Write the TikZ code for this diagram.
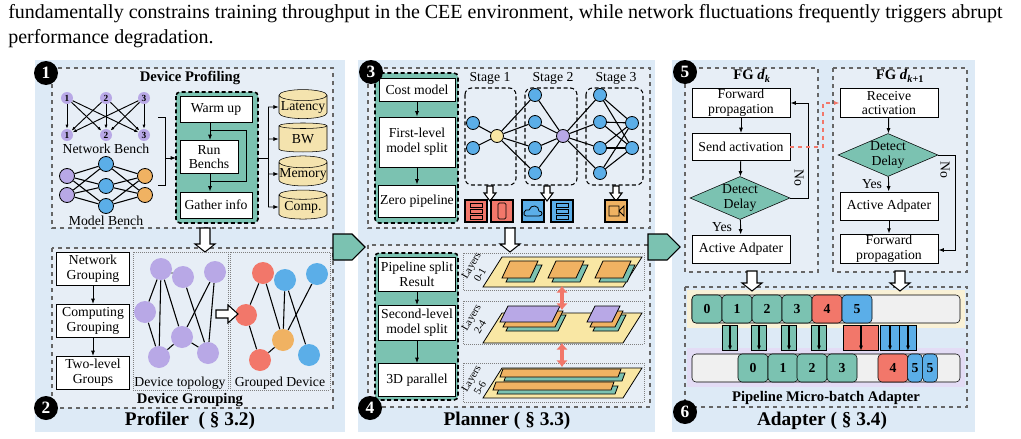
\documentclass[tikz,border=0pt]{standalone}
\usepackage{fontspec}
\setmainfont{Liberation Serif}
\usetikzlibrary{shapes.geometric,arrows.meta}
\definecolor{panelbg}{HTML}{DDEAF6}
\definecolor{innerbg}{HTML}{E7EEF6}
\definecolor{teal}{HTML}{7BC2B1}
\definecolor{lila}{HTML}{B8A8E6}
\definecolor{sky}{HTML}{5BAEE8}
\definecolor{peach}{HTML}{F0B262}
\definecolor{salmon}{HTML}{F2776A}
\definecolor{cream}{HTML}{F4E3AE}
\definecolor{sand}{HTML}{F9E7A4}
\newcommand\fs{\fontsize{10.3}{11}\selectfont}
\newcommand\warrow[4]{% x, top y, bottom y, half width
  \draw[fill=white,line width=0.8pt] (#1-#4/2,#2) -- (#1+#4/2,#2) -- (#1+#4/2,#3-8) -- (#1+#4,#3-8)
    -- (#1,#3) -- (#1-#4,#3-8) -- (#1-#4/2,#3-8) -- cycle;}
\newcommand\slab[6]{% x, y, w, h, fill, skew
  \draw[fill=#5,line width=0.6pt] (#1,#2+#4) -- (#1+#6,#2) -- (#1+#6+#3,#2) -- (#1+#3,#2+#4) -- cycle;}
\tikzset{
  wh/.style 2 args={minimum width=#1*0.75pt,minimum height=#2*0.75pt},
  box/.style={draw,fill=white,align=center,font=\fs,inner sep=1pt,line width=0.7pt},
  tbox/.style={draw,fill=teal,densely dashed,line width=1.2pt,rounded corners=3pt},
  dbox/.style={draw=gray!80!black,dashed,line width=1pt},
  lbox/.style={draw=gray,densely dotted,line width=0.5pt},
  cyl/.style={cylinder,shape border rotate=90,aspect=0.25,draw,fill=cream,font=\fs,inner sep=0pt},
  dia/.style={diamond,draw,fill=teal,aspect=2.3,font=\fs,align=center,inner sep=0pt},
  badge/.style={circle,fill=black,text=white,font=\bfseries\fontsize{13}{13}\selectfont,minimum size=18pt,inner sep=0pt},
  nd/.style={circle,draw,line width=0.6pt,minimum size=#1*1.5pt,inner sep=0pt},
  gd/.style={circle,minimum size=16.5pt,inner sep=0pt},
  cell/.style={draw,rounded corners=3pt,font=\bfseries\fs,inner sep=0pt,minimum height=21pt},
  tab/.style={draw,inner sep=0pt,minimum height=19pt},
  title/.style={font=\bfseries\fontsize{11}{12}\selectfont},
  big/.style={font=\bfseries\fontsize{14.5}{15}\selectfont},
  lay/.style={font=\fontsize{8}{7}\selectfont,rotate=60,inner sep=0pt},
  arr/.style={-{Latex[length=4pt]},line width=0.7pt},
  dbl/.style={{Latex[length=5pt,width=9pt]}-{Latex[length=5pt,width=9pt]},draw=salmon,line width=3.5pt}
}
\begin{document}
\begin{tikzpicture}[x=0.75pt,y=-0.75pt]
  \useasboundingbox (0,0) rectangle (1021,439);

  % caption text
  \node[anchor=west,font=\fontsize{15}{16}\selectfont,inner sep=0pt] (cap1) at (8,14) {fundamentally constrains training throughput in the CEE environment, while network fluctuations frequently triggers abrupt};
  \node[anchor=west,font=\fontsize{15}{16}\selectfont,inner sep=0pt] (cap2) at (8,39) {performance degradation.};

  % panels
  \fill[panelbg] (35,60) rectangle (345,432);
  \fill[panelbg] (358,60) rectangle (655,432);
  \fill[panelbg] (672,60) rectangle (975,432);
  \draw[dbox,fill=innerbg] (52,68) rectangle (333,228);
  \draw[dbox,fill=innerbg] (52,248) rectangle (333,408);
  \draw[dbox,fill=innerbg] (368,68) rectangle (650,228);
  \draw[dbox,fill=innerbg] (368,245) rectangle (650,407);
  \draw[dbox,fill=innerbg] (685,68) rectangle (818,272);
  \draw[dbox,fill=innerbg] (833,68) rectangle (967,272);
  \fill[cream!50] (687,290) rectangle (965,328);
  \fill[lila!40] (687,348) rectangle (965,387);
  \draw[dbox] (685,287) rectangle (967,407);

  % teal arrows between panels
  \draw[fill=teal,line width=0.8pt] (333,234) -- (352,234) -- (365,247) -- (352,260) -- (333,260) -- cycle;
  \draw[fill=teal,line width=0.8pt] (648,234) -- (667,234) -- (680,247) -- (667,260) -- (648,260) -- cycle;

  % ---------- profiler ----------
  \node[title] (tprof) at (190,78) {Device Profiling};
  \foreach \i/\x in {1/67,2/106,3/144} {
    \node[circle,fill=lila,minimum size=9pt,inner sep=0pt,font=\bfseries\scriptsize] (nt\i) at (\x,98) {\i};
    \node[circle,fill=lila,minimum size=9pt,inner sep=0pt,font=\bfseries\scriptsize] (nb\i) at (\x,135) {\i};
  }
  \foreach \i in {1,2,3} \foreach \j in {1,2,3} \draw[-{Latex[length=3pt]},line width=0.7pt] (nt\i) -- (nb\j);
  \node[font=\fs] (netb) at (106,149) {Network Bench};
  \node[nd=7.5,fill=lila] (ml1) at (67,176) {};
  \node[nd=7.5,fill=lila] (ml2) at (67,195) {};
  \node[nd=7.5,fill=sky] (mm1) at (106,164) {};
  \node[nd=7.5,fill=sky] (mm2) at (106,186) {};
  \node[nd=7.5,fill=sky] (mm3) at (106,206) {};
  \node[nd=7.5,fill=peach] (mr1) at (145,176) {};
  \node[nd=7.5,fill=peach] (mr2) at (145,195) {};
  \foreach \a in {ml1,ml2} \foreach \b in {mm1,mm2,mm3} \draw[line width=0.8pt] (\a) -- (\b);
  \foreach \a in {mm1,mm2,mm3} \foreach \b in {mr1,mr2} \draw[line width=0.8pt] (\a) -- (\b);
  \node[font=\fs] (modb) at (106,221) {Model Bench};
  \draw[tbox] (176,92) rectangle (258,223);
  \node[box,wh={72}{26}] (warm) at (216,109) {Warm up};
  \node[box,wh={58}{33}] (run) at (209,157) {Run\\Benchs};
  \node[box,wh={72}{26}] (gath) at (216,205) {Gather info};
  \coordinate (brk) at (165,158);
  \draw[line width=0.7pt] (158,117) -- (165,117) -- (165,185) -- (158,185);
  \draw[arr] (brk) -- (176,158);
  \draw[arr] (warm.south -| 210,0) -- (run.north -| 210,0);
  \draw[arr] (run.south -| 210,0) -- (gath.north -| 210,0);
  \draw[line width=0.7pt] (210,130) -- (246,130) -- (246,181) -- (210,181);
  \node[cyl,wh={48}{29}] (lat) at (303,107) {Latency};
  \node[cyl,wh={48}{29}] (bw) at (303,139) {BW};
  \node[cyl,wh={48}{29}] (mem) at (303,174) {Memory};
  \node[cyl,wh={48}{29}] (comp) at (303,207) {Comp.};
  \draw[line width=0.7pt] (258,158) -- (268,158);
  \draw[line width=0.7pt] (268,107) -- (268,207);
  \foreach \c in {lat,bw,mem,comp} \draw[arr] (268,0 |- \c) -- (\c.west);
  \warrow{205}{228}{252}{10}

  \node[box,wh={73}{33}] (ngrp) at (93,269) {Network\\Grouping};
  \node[box,wh={73}{33}] (cgrp) at (93,321) {Computing\\Grouping};
  \node[box,wh={73}{33}] (tgrp) at (93,373) {Two-level\\Groups};
  \draw[arr] (ngrp) -- (cgrp);
  \draw[arr] (cgrp) -- (tgrp);
  \draw[lbox] (133,252) rectangle (228,390);
  \draw[lbox] (230,252) rectangle (330,390);
  \foreach \n/\x/\y in {a/161/269,b/183/277,c/215/272,d/145/312,e/182/337,f/159/357,g/208/353}
    \node[gd,fill=lila] (t\n) at (\x,\y) {};
  \foreach \u/\v in {a/d,a/f,a/e,a/b,b/g,c/e,c/g,d/f,f/e,e/g}
    \draw[line width=0.8pt] (t\u) -- (t\v);
  \node[gd,fill=salmon] (gr1) at (263,273) {};
  \node[gd,fill=sky] (gb1) at (285,280) {};
  \node[gd,fill=sky] (gb2) at (317,274) {};
  \node[gd,fill=salmon] (gr2) at (246,315) {};
  \node[gd,fill=peach] (go) at (283,340) {};
  \node[gd,fill=salmon] (gr3) at (260,360) {};
  \node[gd,fill=sky] (gb3) at (309,355) {};
  \foreach \u/\v in {gr1/gr2,gr1/go,gr2/gr3,gr3/go,gb1/gb3,gb2/go,gb1/go}
    \draw[line width=0.8pt] (\u) -- (\v);
  \draw[fill=white,line width=0.8pt] (216,310) -- (228,310) -- (228,305) -- (238,314) -- (228,323) -- (228,318) -- (216,318) -- cycle;
  \node[font=\fs] (ltop) at (180,383) {Device topology};
  \node[font=\fs] (lgrp) at (280,383) {Grouped Device};
  \node[title] (tgroup) at (190,400) {Device Grouping};
  \node[big] (tprofiler) at (190,421) {Profiler~~( \S\ 3.2)};
  \node[badge] (b1) at (46,73) {1};
  \node[badge] (b2) at (46,408) {2};

  % ---------- planner ----------
  \draw[tbox] (375,73) rectangle (458,223);
  \node[box,wh={76}{23}] (cost) at (417,90) {Cost model};
  \node[box,wh={76}{50}] (first) at (417,142) {First-level\\model split};
  \node[box,wh={76}{32}] (zero) at (417,201) {Zero pipeline};
  \draw[arr] (cost) -- (first);
  \draw[arr] (first) -- (zero);
  \draw[densely dashed,rounded corners=5pt,line width=0.8pt] (465,88) rectangle (516,185);
  \draw[densely dashed,rounded corners=5pt,line width=0.8pt] (525,88) rectangle (577,185);
  \draw[densely dashed,rounded corners=5pt,line width=0.8pt] (586,88) rectangle (643,185);
  \node[font=\fs] (st1) at (490,78) {Stage 1};
  \node[font=\fs] (st2) at (553,78) {Stage 2};
  \node[font=\fs] (st3) at (616,78) {Stage 3};
  \node[nd=6.5,fill=sky] (s1a) at (473,123) {};
  \node[nd=6.5,fill=sky] (s1b) at (473,148) {};
  \node[nd=6.5,fill=sand] (ym) at (497,136) {};
  \node[nd=6.5,fill=lila] (pm) at (563,136) {};
  \foreach \i/\y in {1/95,2/122,3/148,4/173} {
    \node[nd=6.5,fill=sky] (s2\i) at (535,\y) {};
    \node[nd=6.5,fill=sky] (s3\i) at (600,\y) {};
  }
  \node[nd=6.5,fill=sky] (s3e) at (632,123) {};
  \node[nd=6.5,fill=sky] (s3f) at (632,148) {};
  \foreach \a in {s1a,s1b} \draw[line width=0.8pt] (\a) -- (ym);
  \foreach \i in {1,2,3,4} {
    \draw[line width=0.8pt] (ym) -- (s2\i);
    \draw[line width=0.8pt] (s2\i) -- (pm);
    \draw[line width=0.8pt] (pm) -- (s3\i);
    \draw[line width=0.8pt] (s3\i) -- (s3e);
    \draw[line width=0.8pt] (s3\i) -- (s3f);
  }
  \warrow{490}{186}{201}{6}
  \warrow{547}{186}{201}{6}
  \warrow{616}{186}{201}{6}
  % devices
  \foreach \n/\x/\c in {d1/476/salmon,d2/502/salmon,d3/533/sky,d4/562/sky,d5/616/peach}
    \node[draw,fill=\c,line width=0.8pt,minimum size=16.5pt,inner sep=0pt] (\n) at (\x,211) {};
  \foreach \y in {205,211,217} \draw[line width=0.5pt] (470,\y-2) rectangle (482,\y+2);
  \draw[rounded corners=1pt,line width=0.6pt] (498,203) rectangle (506,219);
  \draw[line width=0.6pt] (526,216) .. controls (522,216) and (524,208) .. (529,210) .. controls (531,204) and (539,205) .. (539,211) .. controls (543,211) and (543,216) .. (539,216) -- cycle;
  \foreach \y in {205,211,217} \draw[line width=0.5pt] (556,\y-2) rectangle (568,\y+2);
  \draw[line width=0.6pt] (609,206) rectangle (619,216) (619,211) -- (624,206) -- (624,216) -- cycle;
  \warrow{510}{228}{252}{10}

  \draw[tbox] (375,253) rectangle (458,400);
  \node[box,wh={77}{34}] (psr) at (417,274) {Pipeline split\\Result};
  \node[box,wh={77}{35}] (second) at (417,323) {Second-level\\model split};
  \node[box,wh={77}{33}] (threed) at (417,380) {3D parallel};
  \draw[arr] (psr) -- (second);
  \draw[arr] (second) -- (threed);
  \draw[lbox] (463,253) rectangle (644,290);
  \draw[lbox] (463,301) rectangle (644,344);
  \draw[lbox] (463,363) rectangle (644,402);
  \node[lay] (ly1a) at (472,266) {Layers};
  \node[lay] (ly1b) at (480,275) {0-1};
  \node[lay] (ly2a) at (472,318) {Layers};
  \node[lay] (ly2b) at (480,327) {2-4};
  \node[lay] (ly3a) at (472,379) {Layers};
  \node[lay] (ly3b) at (480,388) {5-6};
  \slab{483}{257}{140}{30}{sand}{19}
  \foreach \x in {502,548,595} {
    \slab{\x+4}{265}{28}{17}{teal}{8}
    \slab{\x}{261}{28}{17}{peach}{8}
  }
  \slab{483}{313}{140}{30}{sand}{19}
  \slab{506}{315}{52}{16}{teal}{8}
  \slab{503}{311}{52}{16}{peach}{8}
  \slab{500}{306}{52}{16}{lila}{8}
  \slab{593}{315}{25}{16}{teal}{8}
  \slab{590}{311}{25}{16}{peach}{8}
  \slab{587}{306}{25}{16}{lila}{8}
  \slab{483}{368}{140}{30}{sand}{19}
  \slab{504}{373}{118}{8}{teal}{3}
  \slab{500}{369}{118}{8}{peach}{3}
  \slab{497}{386}{118}{8}{teal}{3}
  \slab{493}{382}{118}{8}{peach}{3}
  \coordinate (l1b) at (562,286);
  \coordinate (l2t) at (562,310);
  \coordinate (l2b) at (562,343);
  \coordinate (l3t) at (562,367);
  \draw[dbl] (l1b) -- (l2t);
  \draw[dbl] (l2b) -- (l3t);
  \node[big] (tplanner) at (507,421) {Planner ( \S\ 3.3)};
  \node[badge] (b3) at (371,72) {3};
  \node[badge] (b4) at (370,408) {4};

  % ---------- adapter ----------
  \node[title] (fgk) at (752,76) {FG \textit{d}\textsubscript{\textit{k}}};
  \node[title] (fgk1) at (900,76) {FG \textit{d}\textsubscript{\textit{k}+1}};
  \node[box,wh={98}{29}] (fwd1) at (741,103) {Forward\\propagation};
  \node[box,wh={98}{27}] (send) at (741,147) {Send activation};
  \node[dia,wh={100}{43}] (det1) at (740,198) {Detect\\Delay};
  \node[box,wh={98}{28}] (act1) at (741,249) {Active Adpater};
  \draw[arr] (fwd1) -- (send);
  \draw[arr] (send) -- (det1);
  \draw[arr] (det1) -- (act1);
  \node[font=\fs] (yes1) at (722,227) {Yes};
  \draw[arr] (det1.east) -- (808,198) -- (808,103) -- (fwd1.east);
  \node[font=\fs,rotate=-90] (no1) at (799,178) {No};
  \node[box,wh={98}{29}] (recv) at (889,103) {Receive\\activation};
  \node[dia,wh={100}{43}] (det2) at (888,155) {Detect\\Delay};
  \node[box,wh={98}{28}] (act2) at (889,206) {Active Adpater};
  \node[box,wh={98}{28}] (fwd2) at (889,249) {Forward\\propagation};
  \draw[arr] (recv) -- (det2);
  \draw[arr] (det2) -- (act2);
  \draw[arr] (act2) -- (fwd2);
  \node[font=\fs] (yes2) at (872,184) {Yes};
  \draw[arr] (det2.east) -- (955,155) -- (955,250) -- (fwd2.east |- 0,250);
  \node[font=\fs,rotate=-90] (no2) at (945,170) {No};
  \draw[-{Latex[length=4pt]},draw=salmon,dashed,line width=1.2pt] (send.east) -- (823,147) -- (823,103) -- (recv.west);
  \warrow{752}{271}{291}{10}
  \warrow{900}{271}{291}{10}

  \node[draw,fill=gray!12,rounded corners=3pt,minimum width=201pt,minimum height=21pt,inner sep=0pt] (row1) at (826,309) {};
  \node[draw,fill=gray!12,rounded corners=3pt,minimum width=201pt,minimum height=21pt,inner sep=0pt] (row2) at (826,368) {};
  \foreach \i/\x/\c in {0/707/teal,1/737/teal,2/767/teal,3/797/teal,4/827/salmon,5/857/sky}
    \node[cell,fill=\c,minimum width=22.5pt] (u\i) at (\x,309) {\i};
  \foreach \i/\x/\c in {0/753/teal,1/783/teal,2/812/teal,3/842/teal,4/893/salmon}
    \node[cell,fill=\c,minimum width=22.5pt] (v\i) at (\x,368) {\i};
  \node[cell,fill=sky,minimum width=11pt] (v5) at (915,368) {5};
  \node[cell,fill=sky,minimum width=11pt] (v6) at (930,368) {5};
  \foreach \x in {730,759,789,819} {
    \node[tab,fill=teal,minimum width=11pt] (k\x) at (\x,338) {};
    \draw[-{Latex[length=4pt]},line width=1.3pt] (k\x.north) -- (k\x.south);
  }
  \node[tab,fill=salmon,minimum width=26pt] (kr) at (861,338) {};
  \draw[-{Latex[length=4pt]},line width=1.3pt] (kr.north) -- (kr.south);
  \node[tab,fill=sky,minimum width=14pt] (kb1) at (890,338) {};
  \node[tab,fill=sky,minimum width=13pt] (kb2) at (908,338) {};
  \draw[-{Latex[length=4pt]},line width=1.3pt] (kb1.north) -- (kb1.south);
  \draw[-{Latex[length=4pt]},line width=1.3pt] (kb2.north) -- (kb2.south);
  \node[title] (tpipe) at (826,398) {Pipeline Micro-batch Adapter};
  \node[big] (tadapter) at (822,421) {Adapter ( \S\ 3.4)};
  \node[badge] (b5) at (685,72) {5};
  \node[badge] (b6) at (685,412) {6};
\end{tikzpicture}
\end{document}
